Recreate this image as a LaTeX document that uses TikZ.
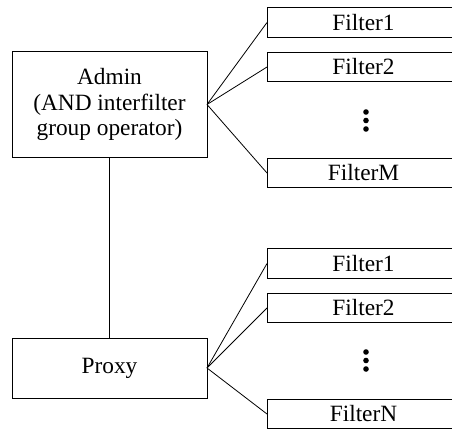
\documentclass[tikz,border=0pt]{standalone}
\usepackage{fontspec}
\setmainfont{Liberation Serif}
\begin{document}
\begin{tikzpicture}[x=0.75pt,y=-0.75pt,
  every node/.style={font=\rmfamily\fontsize{17.5}{19}\selectfont},
  mainbox/.style={draw,line width=0.75pt,rectangle,inner sep=0pt,outer sep=0pt,minimum width=146.25pt,align=center},
  filterbox/.style={draw,line width=0.75pt,rectangle,inner sep=0pt,outer sep=0pt,minimum width=144.75pt,minimum height=22pt},
  conn/.style={line width=0.6pt},
  dot/.style={fill=black,circle,inner sep=0pt,minimum size=4.2pt}]
\useasboundingbox (0,0) rectangle (452,428);
\clip (0,0) rectangle (452,428);
\node[mainbox,minimum height=78.75pt] (admin) at (109.5,104.5) {Admin\\(AND interfilter\\group operator)};
\node[mainbox,minimum height=45pt] (proxy) at (109.5,368) {Proxy};
\node[filterbox] (a1) at (363.5,22.5) {Filter1};
\node[filterbox] (a2) at (363.5,67) {Filter2};
\node[filterbox] (am) at (363.5,173) {FilterM};
\node[filterbox] (b1) at (363.5,263.5) {Filter1};
\node[filterbox] (b2) at (363.5,308) {Filter2};
\node[filterbox] (bn) at (363.5,414) {FilterN};
\node[dot] (ad1) at (366,112) {};
\node[dot] (ad2) at (366,120.5) {};
\node[dot] (ad3) at (366,129) {};
\node[dot] (bd1) at (366,352) {};
\node[dot] (bd2) at (366,360.5) {};
\node[dot] (bd3) at (366,369) {};
\draw[conn] (admin.east) -- (a1.west);
\draw[conn] (admin.east) -- (a2.west);
\draw[conn] (admin.east) -- (am.west);
\draw[conn] (proxy.east) -- (b1.west);
\draw[conn] (proxy.east) -- (b2.west);
\draw[conn] (proxy.east) -- (bn.west);
\draw[conn] (admin.south) -- (proxy.north);
\end{tikzpicture}
\end{document}
